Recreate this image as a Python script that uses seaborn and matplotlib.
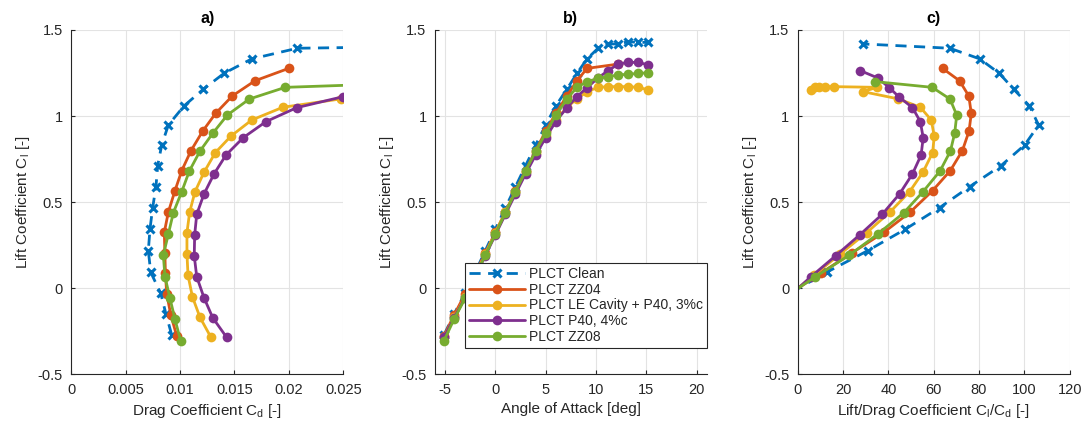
import numpy as np
import matplotlib
matplotlib.use("Agg")
import matplotlib.pyplot as plt
import seaborn as sns

# ---------------- data ----------------
alpha = [-5.1, -4.1, -3.0, -2.0, -1.0, 0.0, 1.0, 2.0, 3.0, 4.0, 5.0, 6.0,
         7.1, 8.1, 9.1, 10.2, 11.2, 12.2, 13.2, 14.2, 15.2]

series_names = ["PLCT Clean", "PLCT ZZ04", "PLCT LE Cavity + P40, 3%c",
                "PLCT P40, 4%c", "PLCT ZZ08"]

# Clean
clean_alpha = alpha
clean_cl = [-0.271, -0.149, -0.029, 0.093, 0.218, 0.343, 0.468, 0.590, 0.712, 0.832,
            0.948, 1.059, 1.156, 1.248, 1.332, 1.394, 1.419, 1.419, 1.432, 1.428, 1.428]
clean_cd = [0.00923, 0.00870, 0.00822, 0.00730, 0.00708, 0.00723, 0.00748, 0.00778,
            0.00794, 0.00831, 0.00892, 0.01036, 0.01213, 0.01403, 0.01658, 0.02077, 0.0493]

# ZZ04
zz04_alpha = alpha[:15] + [12.2]
zz04_cl = [-0.277, -0.155, -0.033, 0.087, 0.205, 0.325, 0.443, 0.567, 0.683, 0.799,
           0.913, 1.016, 1.117, 1.205, 1.277, 1.302]
zz04_cd = [0.00969, 0.00915, 0.00877, 0.00865, 0.00860, 0.00855, 0.00892, 0.00953,
           0.01015, 0.01100, 0.01208, 0.01327, 0.01480, 0.01688, 0.01998]

# LE Cavity + P40, 3%c
lec_alpha = alpha
lec_cl = [-0.285, -0.169, -0.049, 0.075, 0.199, 0.323, 0.443, 0.561, 0.674, 0.788,
          0.884, 0.977, 1.051, 1.100, 1.142, 1.167, 1.171, 1.171, 1.171, 1.167, 1.152]
lec_cd = [0.01284, 0.01183, 0.01113, 0.01073, 0.01063, 0.01063, 0.01088, 0.01137,
          0.01220, 0.01324, 0.01468, 0.01658, 0.01943, 0.0248, 0.0397, 0.0334,
          0.0732, 0.0976, 0.1233, 0.1556, 0.1920]

# P40, 4%c
p40_alpha = alpha
p40_cl = [-0.285, -0.171, -0.055, 0.067, 0.189, 0.310, 0.430, 0.548, 0.664, 0.774,
          0.875, 0.968, 1.049, 1.113, 1.165, 1.222, 1.264, 1.302, 1.312, 1.312, 1.297]
p40_cd = [0.01428, 0.01300, 0.01220, 0.01153, 0.01130, 0.01134, 0.01153, 0.01220,
          0.01312, 0.01422, 0.01581, 0.01790, 0.02072, 0.02500, 0.02880, 0.03470, 0.04580]

# ZZ08
zz08_alpha = alpha
zz08_cl = [-0.304, -0.180, -0.058, 0.067, 0.193, 0.315, 0.439, 0.561, 0.681, 0.797,
           0.900, 1.006, 1.099, 1.167, 1.200, 1.219, 1.229, 1.239, 1.243, 1.248, 1.252]
zz08_cd = [0.01005, 0.00953, 0.00907, 0.00861, 0.00846, 0.00892, 0.00938, 0.01015,
           0.01085, 0.01183, 0.01300, 0.01434, 0.01636, 0.01967, 0.0350]

colors = ["#0072BD", "#D95319", "#EDB120", "#7E2F8E", "#77AC30"]

# ---------------- style ----------------
sns.set_theme(style="white")
plt.rcParams['font.family'] = ['Liberation Sans', 'DejaVu Sans']
plt.rcParams['mathtext.fontset'] = 'custom'
plt.rcParams['mathtext.rm'] = 'Liberation Sans'
plt.rcParams['mathtext.it'] = 'Liberation Sans'

fig = plt.figure(figsize=(10.87, 4.26), dpi=100)
L = [0.0656, 0.4001, 0.7339]
W = 0.2502
B, H = 0.1211, 0.8085
axes = [fig.add_axes([l, B, W, H]) for l in L]

text_col = "#262626"

datasets = [
    (clean_alpha, clean_cl, clean_cd),
    (zz04_alpha, zz04_cl, zz04_cd),
    (lec_alpha, lec_cl, lec_cd),
    (p40_alpha, p40_cl, p40_cd),
    (zz08_alpha, zz08_cl, zz08_cd),
]


def style_kw(i):
    if i == 0:
        return dict(marker="x", markersize=5.5, markeredgewidth=2.2,
                    markeredgecolor=colors[0],
                    linestyle=(0, (4.0, 2.7)), linewidth=2.0)
    return dict(marker="o", markersize=7, markeredgewidth=0,
                markeredgecolor=colors[i], linestyle="-", linewidth=2.0)


for i, (a, cl, cd) in enumerate(datasets):
    n = len(cd)
    cl_p = np.array(cl[:n])
    cd_p = np.array(cd)
    ld = cl_p / cd_p
    kw = style_kw(i)
    sns.lineplot(x=cd_p, y=cl_p, ax=axes[0], color=colors[i], sort=False,
                 estimator=None, **kw)
    sns.lineplot(x=np.array(a), y=np.array(cl), ax=axes[1], color=colors[i],
                 sort=False, estimator=None, label=series_names[i], **kw)
    sns.lineplot(x=ld, y=cl_p, ax=axes[2], color=colors[i], sort=False,
                 estimator=None, **kw)

xlims = [(0, 0.025), (-6, 21), (0, 120)]
xticks = [[0, 0.005, 0.01, 0.015, 0.02, 0.025], [-5, 0, 5, 10, 15, 20],
          [0, 20, 40, 60, 80, 100, 120]]
xticklabels = [["0", "0.005", "0.01", "0.015", "0.02", "0.025"],
               ["-5", "0", "5", "10", "15", "20"],
               ["0", "20", "40", "60", "80", "100", "120"]]
xlabels = ["Drag Coefficient C$_\\mathregular{d}$ [-]", "Angle of Attack [deg]",
           "Lift/Drag Coefficient C$_\\mathregular{l}$/C$_\\mathregular{d}$ [-]"]
titles = ["a)", "b)", "c)"]
yticks = [-0.5, 0, 0.5, 1, 1.5]
yticklabels = ["-0.5", "0", "0.5", "1", "1.5"]

for k, ax in enumerate(axes):
    ax.set_xlim(*xlims[k])
    ax.set_ylim(-0.5, 1.5)
    ax.set_xticks(xticks[k])
    ax.set_xticklabels(xticklabels[k])
    ax.set_yticks(yticks)
    ax.set_yticklabels(yticklabels)
    ax.grid(True, color="#E3E3E3", linewidth=0.8)
    ax.set_axisbelow(True)
    for s in ["top", "right"]:
        ax.spines[s].set_visible(False)
    for s in ["left", "bottom"]:
        ax.spines[s].set_color(text_col)
        ax.spines[s].set_linewidth(0.8)
    ax.tick_params(axis="both", direction="in", length=3, width=0.8,
                   colors=text_col, labelsize=10.5, pad=6, left=True, bottom=True)
    ax.set_xlabel(xlabels[k], fontsize=11, color=text_col, labelpad=4)
    ax.set_ylabel("Lift Coefficient C$_\\mathregular{l}$ [-]", fontsize=11,
                  color=text_col, labelpad=4)
    ax.set_title(titles[k], fontsize=11.5, fontweight="bold", color="black", pad=5)
    if ax.get_legend() is not None and k != 1:
        ax.get_legend().remove()

leg = axes[1].legend(loc="lower right", bbox_to_anchor=(1.0, 0.077),
                     borderaxespad=0, fontsize=10, frameon=True, fancybox=False,
                     edgecolor="#262626", framealpha=1, handlelength=4.0,
                     handletextpad=0.3, labelspacing=0.12, borderpad=0.3)
leg.get_frame().set_linewidth(0.8)
for t in leg.get_texts():
    t.set_color(text_col)

fig.savefig("out.png", dpi=100, facecolor="white")
